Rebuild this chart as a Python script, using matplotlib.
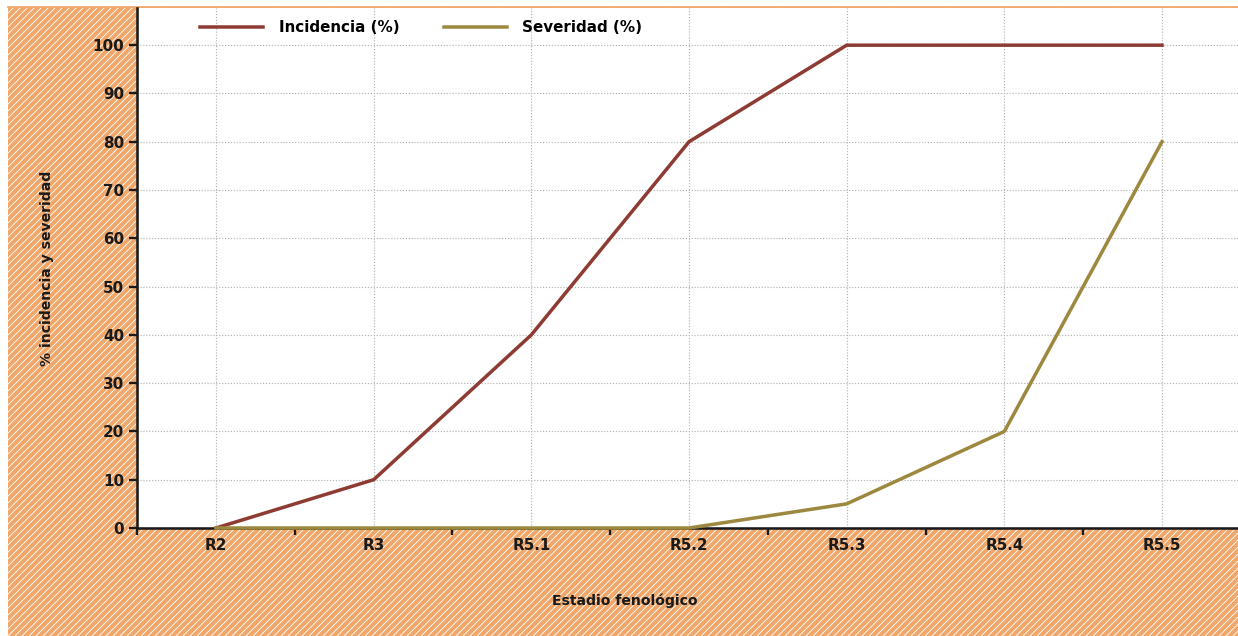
import matplotlib
matplotlib.use("Agg")
import matplotlib.pyplot as plt
from matplotlib.patches import Rectangle
from matplotlib.lines import Line2D

# data
stages = ["R2", "R3", "R5.1", "R5.2", "R5.3", "R5.4", "R5.5"]
incidencia = [0, 10, 40, 80, 100, 100, 100]
severidad = [0, 0, 0, 0, 5, 20, 80]
yticks = list(range(0, 101, 10))

W, H, DPI = 1238, 636, 84
fig = plt.figure(figsize=(W / DPI, H / DPI), dpi=DPI)
plt.rcParams['font.family'] = ['DejaVu Sans']
plt.rcParams['hatch.linewidth'] = 0.75

orange = '#F1A76A'
# hatched orange background behind the plot area
bg = Rectangle((8 / W, 0), 1 - 8 / W, 1 - 7 / H, transform=fig.transFigure,
               facecolor=orange, edgecolor='white', hatch='////', lw=0, zorder=-2)
fig.patches.append(bg)
fig.add_artist(Line2D([8 / W, 1], [1 - 7 / H, 1 - 7 / H], transform=fig.transFigure,
                      color=orange, lw=1.5, zorder=-1))

ax = fig.add_axes([137 / W, (H - 528) / H, (W - 137) / W, (528 - 8) / H])
ax.set_facecolor('white')

x = list(range(len(stages)))
ax.plot(x, incidencia, color='#8E3B33', lw=3, label='Incidencia (%)', zorder=4, clip_on=False)
ax.plot(x, severidad, color='#9C893F', lw=3, label='Severidad (%)', zorder=4, clip_on=False)

ax.set_xlim(-0.501, 6.482)
ax.set_ylim(0, 107.7)

ax.set_xticks(x)
ax.set_xticklabels(stages)
ax.set_xticks([i - 0.5 for i in x], minor=True)
ax.tick_params(axis='x', which='major', length=0, pad=9)
ax.tick_params(axis='x', which='minor', length=6, width=2, color='#1a1a1a', direction='out')
ax.set_yticks(yticks)
ax.tick_params(axis='y', length=7, width=2, color='#1a1a1a', pad=4)
for lab in ax.get_xticklabels() + ax.get_yticklabels():
    lab.set_fontsize(13)
    lab.set_fontweight('bold')
    lab.set_color('#1a1a1a')

ax.grid(True, which='major', linestyle=(0, (1, 1.5)), color='#b3b3b3', lw=1)
ax.set_axisbelow(True)

for s in ['top', 'right']:
    ax.spines[s].set_visible(False)
for s in ['left', 'bottom']:
    ax.spines[s].set_linewidth(2.2)
    ax.spines[s].set_color('#1a1a1a')

ax.set_ylabel('% incidencia y severidad', fontsize=12, fontweight='bold', color='#1a1a1a')
ax.yaxis.set_label_coords(-(137 - 54) / (W - 137), 0.5)
fig.text(625 / W, 1 - 601 / H, 'Estadio fenológico', ha='center', va='center',
         fontsize=12, fontweight='bold', color='#1a1a1a')

leg = ax.legend(loc='upper left', bbox_to_anchor=(51 / (W - 137), 1.0), ncol=2, frameon=False,
                prop={'weight': 'bold', 'size': 13}, handlelength=4.15, handletextpad=1.05,
                columnspacing=2.9, borderaxespad=0.4)

fig.savefig('out.png', dpi=DPI, facecolor='white')
